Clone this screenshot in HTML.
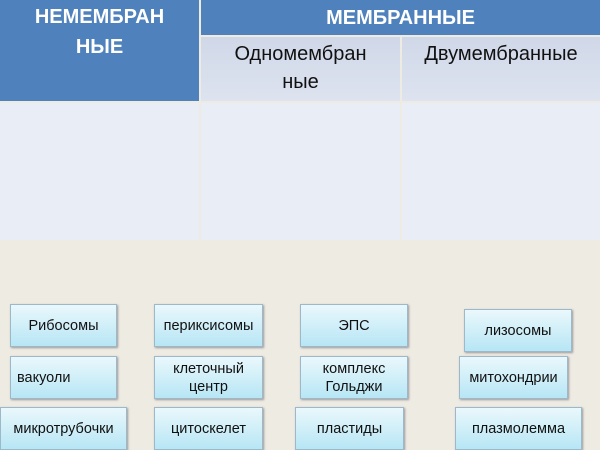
<!DOCTYPE html>
<html><head><meta charset="utf-8"><style>
body{margin:0;width:600px;height:450px;background:#eeebe3;position:relative;overflow:hidden;font-family:"Liberation Sans",sans-serif}
.a{position:absolute}
.h{background:#4f81bd;color:#fff;font-weight:bold;font-size:20px;text-align:center}
.s{background:linear-gradient(#d0d8e8,#dde3ef);color:#111;font-size:20px;text-align:center;line-height:28px}
.b{background:#e9edf5}
.k{position:absolute;box-sizing:border-box;border:1px solid #9db8c8;background:linear-gradient(#eaf8fc,#b7e6f5);box-shadow:1px 1px 2px #999;font-size:14.5px;color:#111;display:flex;align-items:center;justify-content:center;text-align:center;line-height:18px;height:43px}
</style></head><body>
<div class="a h" style="left:0;top:0;width:199px;height:101px;line-height:30px;padding-top:2px;box-sizing:border-box">НЕМЕМБРАН<br>НЫЕ</div>
<div class="a h" style="left:201px;top:0;width:399px;height:35px;line-height:36px">МЕМБРАННЫЕ</div>
<div class="a s" style="left:201px;top:37px;width:199px;height:64px;padding-top:3px;box-sizing:border-box">Одномембран<br>ные</div>
<div class="a s" style="left:402px;top:37px;width:198px;height:64px;padding-top:3px;box-sizing:border-box">Двумембранные</div>
<div class="a b" style="left:0;top:103px;width:199px;height:137px"></div>
<div class="a b" style="left:201px;top:103px;width:199px;height:137px"></div>
<div class="a b" style="left:402px;top:103px;width:198px;height:137px"></div>
<div class="k" style="left:10px;top:304px;width:107px">Рибосомы</div>
<div class="k" style="left:154px;top:304px;width:109px">периксисомы</div>
<div class="k" style="left:300px;top:304px;width:108px">ЭПС</div>
<div class="k" style="left:464px;top:309px;width:108px">лизосомы</div>
<div class="k" style="left:10px;top:356px;width:107px;justify-content:flex-start;padding-left:6px">вакуоли</div>
<div class="k" style="left:154px;top:356px;width:109px">клеточный<br>центр</div>
<div class="k" style="left:300px;top:356px;width:108px">комплекс<br>Гольджи</div>
<div class="k" style="left:459px;top:356px;width:109px">митохондрии</div>
<div class="k" style="left:0;top:407px;width:127px">микротрубочки</div>
<div class="k" style="left:154px;top:407px;width:109px">цитоскелет</div>
<div class="k" style="left:295px;top:407px;width:109px">пластиды</div>
<div class="k" style="left:455px;top:407px;width:127px">плазмолемма</div>
</body></html>
